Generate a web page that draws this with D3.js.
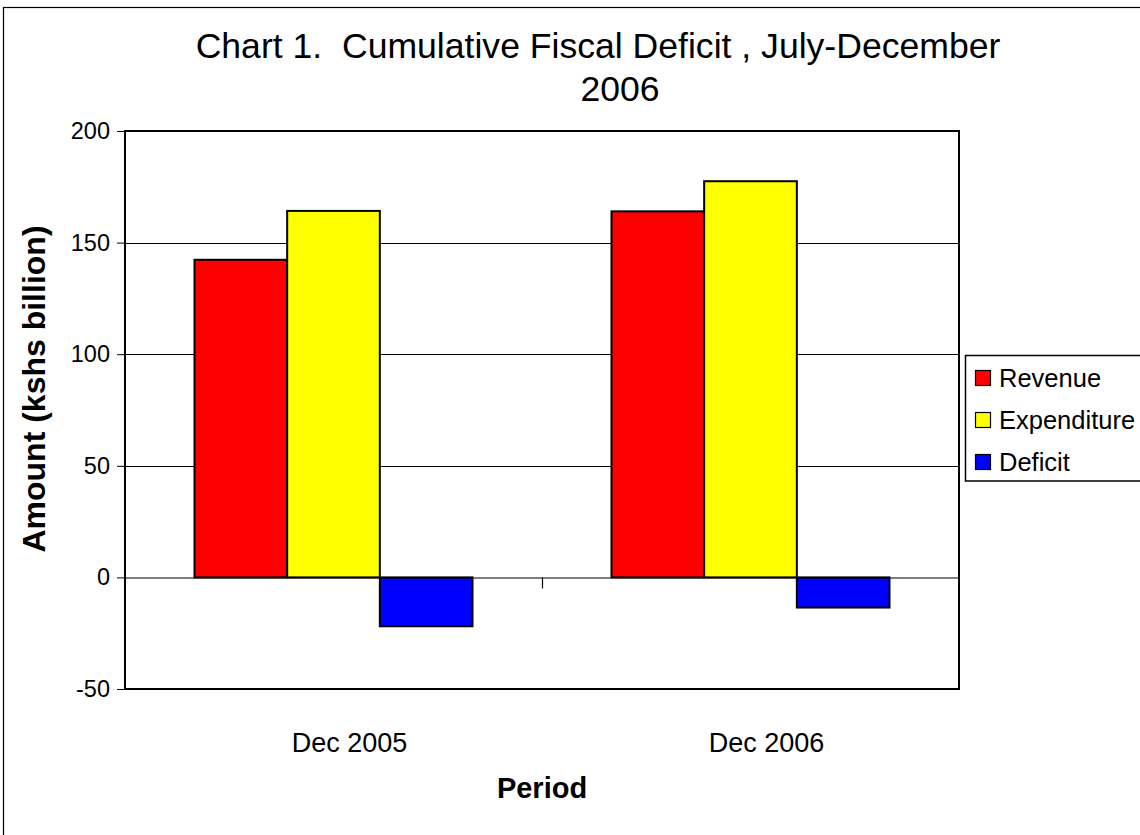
<!DOCTYPE html>
<html>
<head>
<meta charset="utf-8">
<script src="https://cdn.jsdelivr.net/npm/d3@7"></script>
<style>
  html, body { margin: 0; padding: 0; background: #fff; }
  svg { display: block; font-family: "Liberation Sans", Arial, sans-serif; }
</style>
</head>
<body>
<svg id="chart" width="1140" height="835"></svg>
<script>
// Fiscal figures, KShs billion, cumulative July–December
const periods = ["Dec 2005", "Dec 2006"];
const seriesNames = ["Revenue", "Expenditure", "Deficit"];
const revenue = [142.3, 164.0];
const expenditure = [164.2, 177.5];
const deficit = [-21.9, -13.5];
const seriesColors = ["#ff0000", "#ffff00", "#0000ff"];
const yTicks = [-50, 0, 50, 100, 150, 200];

const seriesValues = [revenue, expenditure, deficit];

const svg = d3.select("#chart");
const W = 1140, H = 835;

svg.append("rect").attr("width", W).attr("height", H).attr("fill", "#fff");

// outer chart frame
svg.append("rect")
  .attr("x", 3.5).attr("y", 7.5).attr("width", 1300).attr("height", 1000)
  .attr("fill", "none").attr("stroke", "#000").attr("stroke-width", 1.2);

const plot = { left: 125, right: 959, top: 131, bottom: 689 };

const y = d3.scaleLinear().domain([-50, 200]).range([plot.bottom, plot.top]);
const x0 = d3.scaleBand().domain(periods).range([plot.left, plot.right]).paddingInner(0).paddingOuter(0);
const bw = x0.bandwidth();
const gap = bw / 4.5 * 1.5;
const x1 = d3.scaleBand().domain(seriesNames).range([gap / 2, bw - gap / 2]).padding(0);

// gridlines
svg.append("g")
  .selectAll("line")
  .data(yTicks.filter(t => t !== 0 && t !== -50 && t !== 200))
  .join("line")
  .attr("x1", plot.left).attr("x2", plot.right)
  .attr("y1", d => Math.round(y(d)) + 0.5).attr("y2", d => Math.round(y(d)) + 0.5)
  .attr("stroke", "#000").attr("stroke-width", 1);

// y axis with ticks and labels
const yAxis = d3.axisLeft(y).tickValues(yTicks).tickSize(8).tickPadding(7).tickFormat(d => String(d));
const yg = svg.append("g").attr("transform", `translate(${plot.left},0)`).call(yAxis);
yg.select(".domain").remove();
yg.selectAll(".tick line").attr("stroke", "#000").attr("stroke-width", 1);
yg.selectAll(".tick text")
  .attr("font-size", 23.5).attr("fill", "#000")
  .attr("font-family", "Liberation Sans, Arial, sans-serif");

// bars
const groups = svg.append("g").selectAll("g")
  .data(periods)
  .join("g")
  .attr("transform", d => `translate(${x0(d)},0)`);

groups.selectAll("rect")
  .data((p, i) => seriesNames.map((s, k) => ({ s, v: seriesValues[k][i], c: seriesColors[k] })))
  .join("rect")
  .attr("x", d => x1(d.s))
  .attr("width", x1.bandwidth())
  .attr("y", d => y(Math.max(0, d.v)))
  .attr("height", d => Math.abs(y(d.v) - y(0)))
  .attr("fill", d => d.c)
  .attr("stroke", "#000").attr("stroke-width", 2);

// category axis at zero with boundary tick
const xAxis = d3.axisBottom(x0).tickSize(0).tickFormat("");
const xg = svg.append("g").attr("transform", `translate(0,${Math.round(y(0)) + 0.5})`).call(xAxis);
xg.select(".domain").attr("stroke", "#000").attr("stroke-width", 1.2);
xg.selectAll(".tick").remove();
xg.selectAll(".boundary")
  .data(periods.slice(1))
  .join("line")
  .attr("x1", d => Math.round(x0(d)) + 0.5).attr("x2", d => Math.round(x0(d)) + 0.5)
  .attr("y1", 0).attr("y2", 11)
  .attr("stroke", "#000").attr("stroke-width", 1.2);

// plot frame
svg.append("rect")
  .attr("x", plot.left).attr("y", plot.top)
  .attr("width", plot.right - plot.left).attr("height", plot.bottom - plot.top)
  .attr("fill", "none").attr("stroke", "#000").attr("stroke-width", 2);

// category labels
svg.append("g").selectAll("text")
  .data(periods)
  .join("text")
  .attr("x", d => x0(d) + bw / 2 + 16)
  .attr("y", 752)
  .attr("text-anchor", "middle")
  .attr("font-size", 27)
  .text(d => d);

// axis titles
svg.append("text")
  .attr("x", 542).attr("y", 798)
  .attr("text-anchor", "middle")
  .attr("font-size", 29).attr("font-weight", "bold")
  .text("Period");

svg.append("text")
  .attr("transform", `translate(45,389) rotate(-90)`)
  .attr("text-anchor", "middle")
  .attr("font-size", 32).attr("font-weight", "bold")
  .text("Amount (kshs billion)");

// title
const title = svg.append("text").attr("text-anchor", "middle").attr("font-size", 35.6)
  .attr("xml:space", "preserve").style("white-space", "pre");
title.append("tspan").attr("x", 598).attr("y", 58).text("Chart 1.  Cumulative Fiscal Deficit , July-December");
title.append("tspan").attr("x", 620).attr("y", 101).text("2006");

// legend
const lg = svg.append("g");
lg.append("rect")
  .attr("x", 965.5).attr("y", 355.5).attr("width", 300).attr("height", 125.5)
  .attr("fill", "#fff").attr("stroke", "#000").attr("stroke-width", 1.5);
const items = lg.selectAll("g.item")
  .data(seriesNames)
  .join("g").attr("class", "item")
  .attr("transform", (d, i) => `translate(0,${378 + i * 42})`);
items.append("rect")
  .attr("x", 975.5).attr("y", -7.5).attr("width", 15).attr("height", 15)
  .attr("fill", (d, i) => seriesColors[i])
  .attr("stroke", "#000").attr("stroke-width", 1.2);
items.append("text")
  .attr("x", 999).attr("y", 9)
  .attr("font-size", 25.5)
  .text(d => d);
</script>
</body>
</html>
